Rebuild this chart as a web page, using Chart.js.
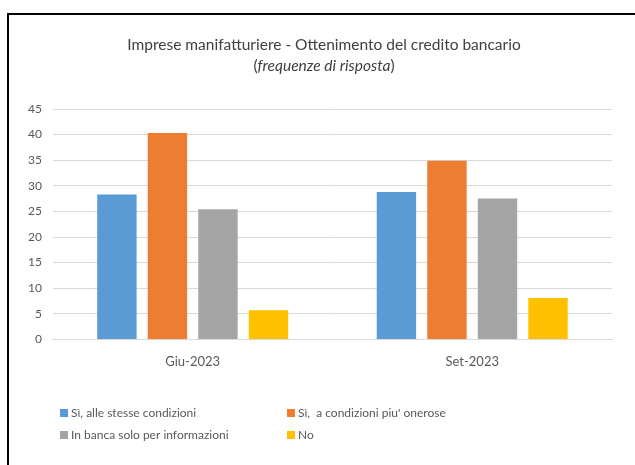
<!DOCTYPE html>
<html>
<head>
<meta charset="utf-8">
<script src="https://cdn.jsdelivr.net/npm/chart.js@4"></script>
<style>
  html, body { margin: 0; padding: 0; background: #fff; }
  #wrap { position: relative; width: 635px; height: 465px; overflow: hidden; }
  #frame { position: absolute; left: 7px; top: 13px; width: 700px; height: 500px;
           border-left: 2px solid #000; border-top: 2px solid #000; pointer-events: none; }
</style>
</head>
<body>
<div id="wrap">
  <canvas id="chart" width="635" height="465"></canvas>
  <div id="frame"></div>
</div>
<script>
// --- dati ---
const categories = ['Giu-2023', 'Set-2023'];
const seriesNames = ['Sì, alle stesse condizioni', "Sì,  a condizioni piu' onerose", 'In banca solo per informazioni', 'No'];
const stesseCondizioni = [28.3, 28.8];
const condizioniOnerose = [40.3, 34.9];
const soloInformazioni = [25.4, 27.5];
const risposteNo = [5.7, 8.1];
const yTicks = [0, 5, 10, 15, 20, 25, 30, 35, 40, 45];

const colors = ['#5B9BD5', '#ED7D31', '#A5A5A5', '#FFC000'];
const FONT = 'Lato, "Open Sans", sans-serif';

// titolo su due righe, la seconda con corsivo misto
const titlePlugin = {
    id: 'titoloMisto',
    afterDraw(chart) {
        const c = chart.ctx;
        const cx = 324;
        c.save();
        c.fillStyle = '#404040';
        c.textBaseline = 'middle';
        c.textAlign = 'center';
        c.font = '15.5px ' + FONT;
        c.fillText('Imprese manifatturiere - Ottenimento del credito bancario', cx, 45);

        const parts = [['(', 'normal'], ['frequenze di risposta', 'italic'], [')', 'normal']];
        let total = 0;
        parts.forEach(p => { c.font = p[1] + ' 15.5px ' + FONT; total += c.measureText(p[0]).width; });
        let x = cx - total / 2;
        c.textAlign = 'left';
        parts.forEach(p => {
            c.font = p[1] + ' 15.5px ' + FONT;
            c.fillText(p[0], x, 66);
            x += c.measureText(p[0]).width;
        });
        c.restore();
    }
};

// legenda a due colonne
const legendPlugin = {
    id: 'legendaGriglia',
    afterDraw(chart) {
        const c = chart.ctx;
        const cols = [60, 287];
        const rows = [413, 435];
        c.save();
        c.font = '12px ' + FONT;
        c.textBaseline = 'middle';
        chart.data.datasets.forEach((ds, i) => {
            const x = cols[i % 2];
            const y = rows[Math.floor(i / 2)];
            c.fillStyle = ds.backgroundColor;
            c.fillRect(x, y - 4, 8, 8);
            c.fillStyle = '#595959';
            c.fillText(ds.label, x + 11, y);
        });
        c.restore();
    }
};

const seriesData = [stesseCondizioni, condizioniOnerose, soloInformazioni, risposteNo];

new Chart(document.getElementById('chart'), {
    type: 'bar',
    data: {
        labels: categories,
        datasets: seriesData.map((d, i) => ({
            label: seriesNames[i],
            data: d,
            backgroundColor: colors[i],
            categoryPercentage: 0.723,
            barPercentage: 0.78
        }))
    },
    options: {
        responsive: false,
        animation: false,
        layout: { padding: { top: 109, left: 17, right: 23, bottom: 88 } },
        plugins: {
            legend: { display: false },
            tooltip: { enabled: false }
        },
        scales: {
            x: {
                grid: { display: false },
                border: { color: '#D9D9D9' },
                ticks: { color: '#595959', font: { family: FONT, size: 13 }, padding: 7 }
            },
            y: {
                min: 0, max: 45,
                afterBuildTicks(axis) { axis.ticks = yTicks.map(v => ({ value: v })); },
                grid: { color: '#D9D9D9', drawTicks: false },
                border: { display: false },
                ticks: { color: '#595959', font: { family: FONT, size: 12 }, padding: 11 }
            }
        }
    },
    plugins: [titlePlugin, legendPlugin]
});
</script>
</body>
</html>
